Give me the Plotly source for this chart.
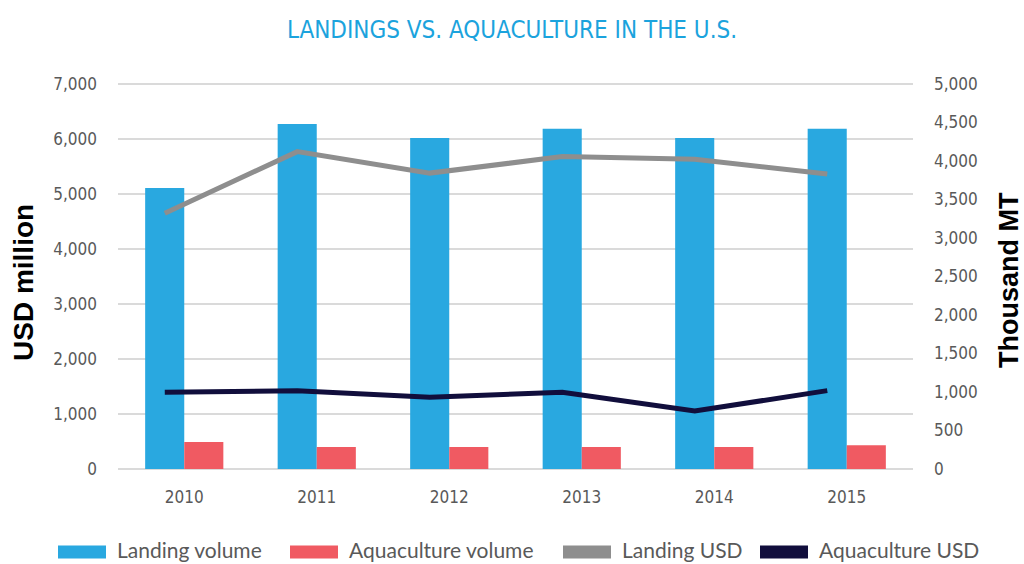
import plotly.graph_objects as go

years = ["2010", "2011", "2012", "2013", "2014", "2015"]
landing_volume = [3650, 4480, 4300, 4420, 4300, 4420]        # thousand MT
aquaculture_volume = [350, 285, 285, 285, 285, 310]          # thousand MT
landing_usd = [4650, 5770, 5380, 5680, 5630, 5365]           # USD million
aquaculture_usd = [1395, 1425, 1305, 1395, 1055, 1425]       # USD million

left_ticks = [0, 1000, 2000, 3000, 4000, 5000, 6000, 7000]
right_ticks = list(range(0, 5001, 500))
LEFT_MAX = 7000
RIGHT_MAX = 5000

NARROW = "DejaVu Sans Condensed, Liberation Sans Narrow, Roboto, sans-serif"
BOLD = "Liberation Sans, Arial, sans-serif"
LEGEND_FONT = "Lato, Open Sans, sans-serif"

series_names = ["Landing volume", "Aquaculture volume", "Landing USD", "Aquaculture USD"]
series_colors = ["#29A8E0", "#F05A62", "#8E8E8E", "#110E3C"]

W, H = 1024, 564
ML, MR, MT, MB = 118, 111, 84, 95
PW, PH = W - ML - MR, H - MT - MB

fig = go.Figure()
fig.add_trace(go.Bar(x=years, y=landing_volume, name=series_names[0],
                     marker=dict(color=series_colors[0], line_width=0),
                     xaxis="x", yaxis="y", showlegend=False))
fig.add_trace(go.Bar(x=years, y=aquaculture_volume, name=series_names[1],
                     marker=dict(color=series_colors[1], line_width=0),
                     xaxis="x", yaxis="y", showlegend=False))
fig.add_trace(go.Scatter(x=years, y=landing_usd, name=series_names[2], mode="lines",
                         line=dict(color=series_colors[2], width=5),
                         xaxis="x2", yaxis="y2", showlegend=False))
fig.add_trace(go.Scatter(x=years, y=aquaculture_usd, name=series_names[3], mode="lines",
                         line=dict(color=series_colors[3], width=5),
                         xaxis="x2", yaxis="y2", showlegend=False))

shapes = []
# horizontal gridlines for the left (USD) axis, drawn beneath the bars
for v in left_ticks:
    shapes.append(dict(type="line", xref="paper", yref="paper", x0=0, x1=1,
                       y0=v / LEFT_MAX, y1=v / LEFT_MAX, layer="below",
                       line=dict(color="#DADADA", width=2)))

annotations = [
    dict(text="USD million", textangle=-90, xref="paper", yref="paper",
         x=(23 - ML) / PW, y=(H - MB - 283) / PH, xanchor="center", yanchor="middle",
         showarrow=False, font=dict(family=BOLD, size=28, color="#000000", weight="bold")),
    dict(text="Thousand MT", textangle=-90, xref="paper", yref="paper",
         x=(1009 - ML) / PW, y=(H - MB - 280) / PH, xanchor="center", yanchor="middle",
         showarrow=False, font=dict(family=BOLD, size=27, color="#000000", weight="bold")),
]

# custom legend with wide colour swatches
legend_swatch_x = [58, 290, 563, 760]
swatch_y = 552
text_y = 549
for name, color, sx in zip(series_names, series_colors, legend_swatch_x):
    shapes.append(dict(type="rect", xref="paper", yref="paper",
                       x0=(sx - ML) / PW, x1=(sx + 48 - ML) / PW,
                       y0=(H - MB - (swatch_y + 6.5)) / PH, y1=(H - MB - (swatch_y - 6.5)) / PH,
                       fillcolor=color, line_width=0, layer="above"))
    annotations.append(dict(text=name, xref="paper", yref="paper",
                            x=(sx + 57 - ML) / PW, y=(H - MB - text_y) / PH,
                            xanchor="left", yanchor="middle", showarrow=False,
                            font=dict(family=LEGEND_FONT, size=21, color="#595959")))

fig.update_layout(
    width=W, height=H,
    margin=dict(l=ML, r=MR, t=MT, b=MB),
    paper_bgcolor="white", plot_bgcolor="rgba(0,0,0,0)",
    barmode="group", bargap=0.41, bargroupgap=0,
    showlegend=False,
    title=dict(text="LANDINGS VS. AQUACULTURE IN THE U.S.", x=0.5, xanchor="center",
               y=(H - 30) / H, yanchor="middle",
               font=dict(family=NARROW, size=24, color="#1BA3DD")),
    xaxis=dict(type="category", showgrid=False, showline=False, ticks="",
               zeroline=False, automargin=False,
               tickfont=dict(family=NARROW, size=17, color="#595959"),
               ticklabelstandoff=16),
    xaxis2=dict(type="category", overlaying="x", range=[-0.353, 5.647],
                visible=False, showgrid=False, automargin=False),
    # right axis: volumes (bars)
    yaxis=dict(range=[0, RIGHT_MAX], tickvals=right_ticks, tickformat=",d",
               side="right", showgrid=False, zeroline=False, showline=False,
               automargin=False,
               tickfont=dict(family=NARROW, size=17, color="#595959"),
               ticklabelstandoff=20),
    # left axis: USD (lines)
    yaxis2=dict(range=[0, LEFT_MAX], tickvals=left_ticks, tickformat=",d",
                overlaying="y", side="left", showgrid=False,
                zeroline=False, showline=False, automargin=False,
                tickfont=dict(family=NARROW, size=17, color="#595959"),
                ticklabelstandoff=20),
    shapes=shapes,
    annotations=annotations,
)

fig.write_html("out.html", config={"displayModeBar": False},
               post_script="document.body.style.margin='0';")
